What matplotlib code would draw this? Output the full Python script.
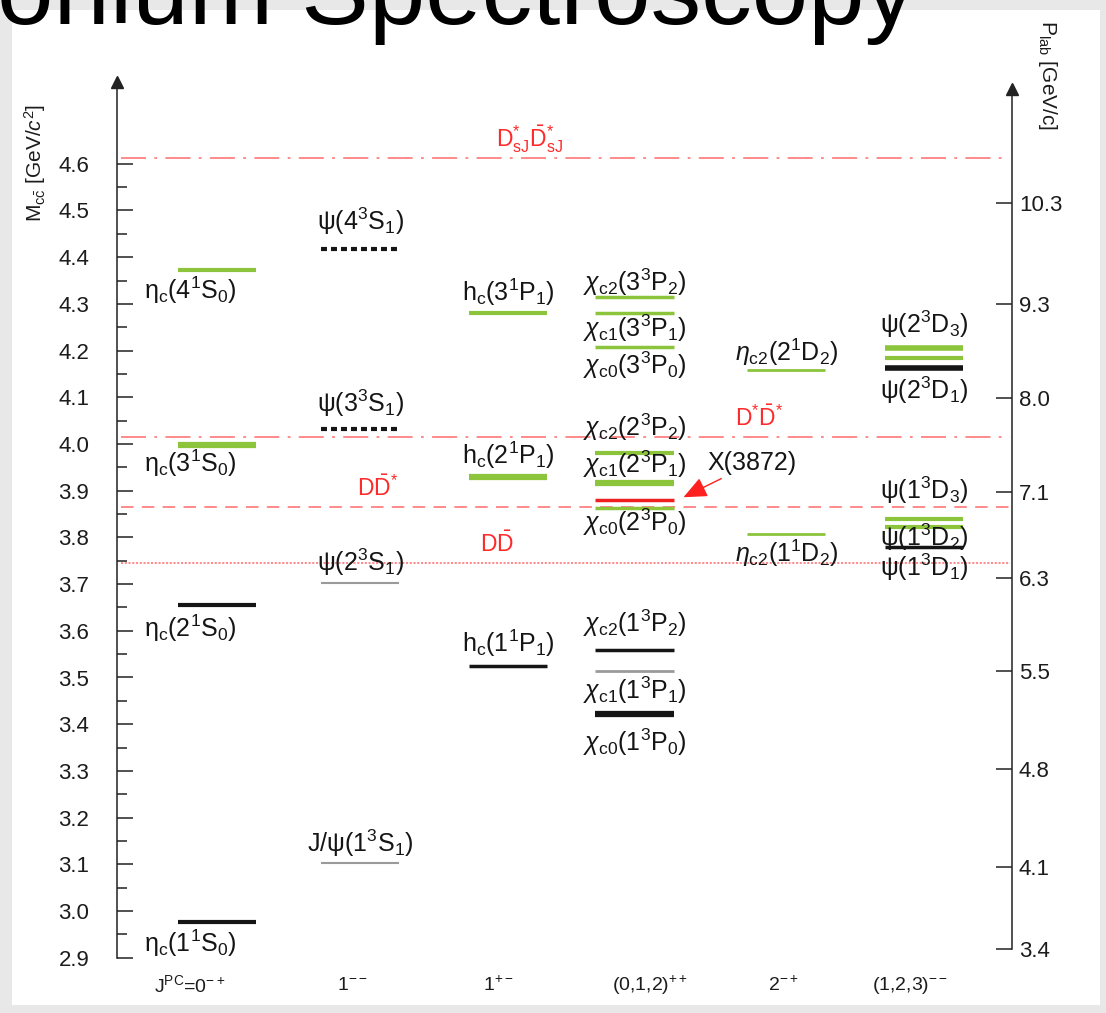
import matplotlib.pyplot as plt
import matplotlib.transforms as mtransforms
import numpy as np
from matplotlib.patches import Rectangle

plt.rcParams['font.family'] = ['Liberation Sans', 'DejaVu Sans']
plt.rcParams['mathtext.fontset'] = 'custom'
plt.rcParams['mathtext.rm'] = 'Liberation Sans'
plt.rcParams['mathtext.it'] = 'Liberation Sans:italic'
plt.rcParams['mathtext.bf'] = 'Liberation Sans:bold'
plt.rcParams['lines.scale_dashes'] = False

# J^PC columns
columns = [r'J$^{\mathrm{PC}}$=0$^{-+}$', r'1$^{--}$', r'1$^{+-}$',
           r'(0,1,2)$^{++}$', r'2$^{-+}$', r'(1,2,3)$^{--}$']

# charmonium states
names = [
    r'η$_{\mathrm{c}}$(4$^{\mathrm{1}}$S$_{\mathrm{0}}$)',
    r'η$_{\mathrm{c}}$(3$^{\mathrm{1}}$S$_{\mathrm{0}}$)',
    r'η$_{\mathrm{c}}$(2$^{\mathrm{1}}$S$_{\mathrm{0}}$)',
    r'η$_{\mathrm{c}}$(1$^{\mathrm{1}}$S$_{\mathrm{0}}$)',
    r'ψ(4$^{\mathrm{3}}$S$_{\mathrm{1}}$)',
    r'ψ(3$^{\mathrm{3}}$S$_{\mathrm{1}}$)',
    r'ψ(2$^{\mathrm{3}}$S$_{\mathrm{1}}$)',
    r'J/ψ(1$^{\mathrm{3}}$S$_{\mathrm{1}}$)',
    r'h$_{\mathrm{c}}$(3$^{\mathrm{1}}$P$_{\mathrm{1}}$)',
    r'h$_{\mathrm{c}}$(2$^{\mathrm{1}}$P$_{\mathrm{1}}$)',
    r'h$_{\mathrm{c}}$(1$^{\mathrm{1}}$P$_{\mathrm{1}}$)',
    r'$\chi_{\mathrm{c2}}$(3$^{\mathrm{3}}$P$_{\mathrm{2}}$)',
    r'$\chi_{\mathrm{c1}}$(3$^{\mathrm{3}}$P$_{\mathrm{1}}$)',
    r'$\chi_{\mathrm{c0}}$(3$^{\mathrm{3}}$P$_{\mathrm{0}}$)',
    r'$\chi_{\mathrm{c2}}$(2$^{\mathrm{3}}$P$_{\mathrm{2}}$)',
    r'$\chi_{\mathrm{c1}}$(2$^{\mathrm{3}}$P$_{\mathrm{1}}$)',
    'X(3872)',
    r'$\chi_{\mathrm{c0}}$(2$^{\mathrm{3}}$P$_{\mathrm{0}}$)',
    r'$\chi_{\mathrm{c2}}$(1$^{\mathrm{3}}$P$_{\mathrm{2}}$)',
    r'$\chi_{\mathrm{c1}}$(1$^{\mathrm{3}}$P$_{\mathrm{1}}$)',
    r'$\chi_{\mathrm{c0}}$(1$^{\mathrm{3}}$P$_{\mathrm{0}}$)',
    r'$\eta_{\mathrm{c2}}$(2$^{\mathrm{1}}$D$_{\mathrm{2}}$)',
    r'$\eta_{\mathrm{c2}}$(1$^{\mathrm{1}}$D$_{\mathrm{2}}$)',
    r'ψ(2$^{\mathrm{3}}$D$_{\mathrm{3}}$)',
    '',
    r'ψ(2$^{\mathrm{3}}$D$_{\mathrm{1}}$)',
    r'ψ(1$^{\mathrm{3}}$D$_{\mathrm{3}}$)',
    r'ψ(1$^{\mathrm{3}}$D$_{\mathrm{2}}$)',
    r'ψ(1$^{\mathrm{3}}$D$_{\mathrm{1}}$)',
]
cols = [0, 0, 0, 0, 1, 1, 1, 1, 2, 2, 2, 3, 3, 3, 3, 3, 3, 3, 3, 3, 3,
        4, 4, 5, 5, 5, 5, 5, 5]
masses = [4.373, 3.998, 3.655, 2.976, 4.418, 4.032, 3.702, 3.103,
          4.280, 3.929, 3.525, 4.315, 4.280, 4.208, 3.981, 3.917, 3.880,
          3.863, 3.559, 3.514, 3.422, 4.158, 3.807, 4.206, 4.184, 4.163,
          3.839, 3.822, 3.779]
status = ['pred', 'pred', 'obs', 'obs', 'uncertain', 'uncertain', 'narrow',
          'narrow', 'pred', 'pred', 'obs', 'pred', 'pred', 'pred', 'pred',
          'pred', 'exotic', 'pred', 'obs', 'narrow', 'obs', 'pred', 'pred',
          'pred', 'pred', 'obs', 'pred', 'pred', 'obs']

# open charm thresholds
thr_names = [r'D$_{\mathrm{sJ}}^{*}\bar{\mathrm{D}}_{\mathrm{sJ}}^{*}$',
             r'D$^{*}\bar{\mathrm{D}}^{*}$',
             r'D$\bar{\mathrm{D}}^{*}$',
             r'D$\bar{\mathrm{D}}$']
thr_masses = [4.612, 4.015, 3.865, 3.745]

# antiproton beam momentum scale
plab_labels = ['10.3', '9.3', '8.0', '7.1', '6.3', '5.5', '4.8', '4.1', '3.4']
plab_mass = [4.516, 4.300, 4.098, 3.897, 3.713, 3.514, 3.304, 3.094, 2.919]

# ---- drawing ----
W, H, DPI = 1106, 1013, 100
GREEN = '#8cc43c'
RED = '#ff6b6b'
INK = '#1c1c1c'

level_style = {
    'obs': dict(color='#151515'),
    'narrow': dict(color='#9a9a9a'),
    'pred': dict(color=GREEN),
    'uncertain': dict(color='#151515', linestyle=(0, (4.3, 2.9))),
    'exotic': dict(color='#ee2020'),
}
level_lw = [3, 4.5, 3, 3, 3, 3, 1.5, 1.5, 3, 4.5, 2.5, 2.5, 2.5, 2.5, 3,
            4.5, 2.5, 2.5, 2.5, 2, 4.5, 2, 2, 4, 3, 4, 3, 3, 2.5]
# label offset from the level in pixels, positive = below
label_dy = [20, 18, 23, 21, -27, -26, -21, -20, -21, -22, -23, -15, 15, 18,
            -26, -18, None, 14, -27, 19, 28, -18, 19, -23, 0, 22, -29, 10, 20]

col_x = [0, 1.01, 2.05, 2.94, 4.01, 4.98]
col_label_shift = [-0.19, 0, 0, 0, 0, 0]
half = 0.275


def px2col(px):
    return (px - 217) / 142


def py2m(py):
    return 3.0 + (911 - py) / 467


fig = plt.figure(figsize=(W / DPI, H / DPI), dpi=DPI, facecolor='#e8e8e8')
fig.add_artist(Rectangle((12 / W, 8 / H), 1088 / W, 995 / H,
                         transform=fig.transFigure, facecolor='white',
                         edgecolor='none', zorder=-5))

ax = fig.add_axes([117 / W, 0, (1012 - 117) / W, 1])
ax.set_facecolor('none')
ax.set_xlim(px2col(117), px2col(1012))
ax.set_ylim(py2m(H), py2m(0))

# thresholds
thr_styles = [(0, (18, 6, 2, 6)), (0, (18, 6, 2, 6)), (0, (9, 6)), (0, (1.5, 1.2))]
thr_label_x = [2.2, 3.82, 1.13, 1.97]
for m, name, ls, lx in zip(thr_masses, thr_names, thr_styles, thr_label_x):
    ax.plot([px2col(121), px2col(1010)], [m, m], color=RED, lw=1.1,
            linestyle=ls, zorder=1)
    ax.annotate(name, xy=(lx, m), xytext=(0, 19), textcoords='offset pixels',
                ha='center', va='center', color='#ff2a2a', fontsize=16.5)

# levels
for i, (name, c, m, st) in enumerate(zip(names, cols, masses, status)):
    x0 = col_x[c] - half
    x1 = col_x[c] + half
    ax.plot([x0, x1], [m, m], lw=level_lw[i], solid_capstyle='butt',
            dash_capstyle='butt', zorder=3, **level_style[st])
    if label_dy[i] is None or not name:
        continue
    ax.annotate(name, xy=(col_x[c] + col_label_shift[c], m),
                xytext=(0, -label_dy[i]), textcoords='offset pixels',
                ha='center', va='center', fontsize=18, color='#151515',
                zorder=4)

# X(3872) pointer
ix = names.index('X(3872)')
ax.annotate('X(3872)', xy=(col_x[cols[ix]] + half + 0.07, masses[ix] + 0.006),
            xytext=(69, 34), textcoords='offset pixels', ha='center',
            va='center', fontsize=18, color='#151515',
            arrowprops=dict(arrowstyle='-|>,head_length=0.8,head_width=0.35',
                            color='#ff2020', lw=1.0, shrinkA=1, shrinkB=0))

# column labels
col_label_x = [-0.19, 0.95, 1.98, 3.05, 3.99, 4.88]
trans = mtransforms.blended_transform_factory(ax.transData, ax.transAxes)
for lx, lbl in zip(col_label_x, columns):
    ax.text(lx, 1 - 985 / H, lbl, transform=trans, ha='center', va='center',
            fontsize=14, color=INK)

# left mass axis
mass_ticks = np.round(np.arange(2.9, 4.65, 0.1), 1)
ax.set_yticks(mass_ticks)
ax.set_yticks(np.round(np.arange(2.95, 4.6, 0.1), 2), minor=True)
ax.yaxis.set_major_formatter('{x:.1f}')
ax.set_xticks([])
ax.tick_params(axis='y', which='major', direction='in', length=11.5,
               width=1.1, pad=20, labelsize=16, labelcolor=INK,
               color='#222222')
ax.tick_params(axis='y', which='minor', direction='in', length=7,
               width=1.1, color='#222222')
ax.yaxis.get_major_ticks()[list(mass_ticks).index(3.9)].tick1line.set_color('#aaaaaa')
for s in ['top', 'bottom', 'right']:
    ax.spines[s].set_visible(False)
ax.spines['left'].set_bounds(2.9, py2m(82))
ax.spines['left'].set_linewidth(1.1)
ax.spines['left'].set_color('#222222')
ax.plot(ax.get_xlim()[0], py2m(82), marker='^', ms=8, color='#222222',
        clip_on=False, zorder=5)

# right momentum axis
ax2 = ax.twinx()
ax2.set_ylim(ax.get_ylim())
ax2.set_yticks(plab_mass, labels=plab_labels)
ax2.tick_params(axis='y', direction='in', length=11.5, width=1.1, pad=5,
                labelsize=16, labelcolor=INK, color='#222222')
for s in ['top', 'bottom', 'left']:
    ax2.spines[s].set_visible(False)
ax2.spines['right'].set_bounds(plab_mass[-1], py2m(89))
ax2.spines['right'].set_linewidth(1.1)
ax2.spines['right'].set_color('#222222')
ax2.plot(ax.get_xlim()[1], py2m(89), marker='^', ms=8, color='#222222',
         clip_on=False, zorder=5)

# axis titles and slide heading
fig.text(35 / W, 1 - 163 / H, r'M$_{\mathrm{c\bar{c}}}$ [GeV/$c^{2}$]',
         rotation=90, ha='center', va='center', fontsize=15, color=INK)
fig.text(1047 / W, 1 - 75 / H, r'P$_{\mathrm{lab}}$ [GeV/c]', rotation=-90,
         ha='center', va='center', fontsize=15, color=INK)
fig.text(915 / W, 1 - 24 / H, 'Charmonium Spectroscopy', ha='right',
         va='baseline', fontsize=73, color='black')

fig.savefig('out.png', dpi=DPI, facecolor=fig.get_facecolor())
